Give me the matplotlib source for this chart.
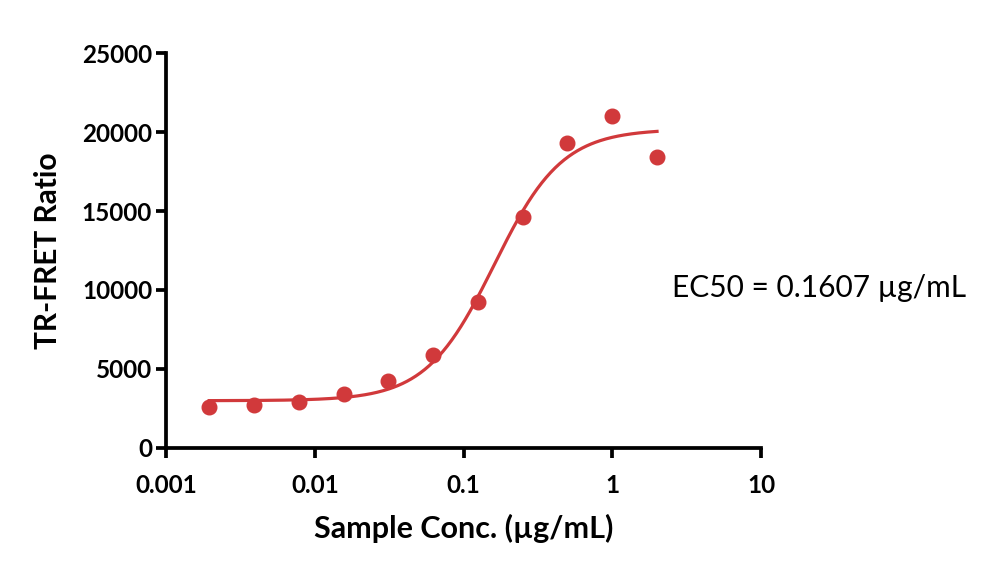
import numpy as np
import matplotlib
matplotlib.use("Agg")
import matplotlib.pyplot as plt

# measured points (sample conc. in ug/mL, TR-FRET ratio)
conc = [0.001953, 0.003906, 0.007813, 0.015625, 0.03125, 0.0625, 0.125, 0.25, 0.5, 1, 2]
ratio = [2600, 2710, 2900, 3390, 4250, 5870, 9260, 14610, 19340, 21030, 18410]

# 4PL fit parameters
bottom = 2980
top = 20200
ec50 = 0.1607
hill = 1.9

x_ticks = [0.001, 0.01, 0.1, 1, 10]
x_tick_labels = ["0.001", "0.01", "0.1", "1", "10"]
y_ticks = [0, 5000, 10000, 15000, 20000, 25000]

red = "#d1393b"

plt.rcParams["font.family"] = ["Lato", "DejaVu Sans"]

fig = plt.figure(figsize=(10, 5.73), dpi=100)
ax = fig.add_axes([0.166, 0.2187, 0.595, 0.688])

xs = np.logspace(np.log10(conc[0]), np.log10(conc[-1]), 300)
fit = bottom + (top - bottom) / (1 + (ec50 / xs) ** hill)
ax.plot(xs, fit, color=red, lw=2.3, zorder=2)
ax.plot(conc, ratio, "o", color=red, ms=10.5, mec=red, zorder=3)

ax.set_xscale("log")
ax.set_xlim(0.001, 10)
ax.set_ylim(0, 25000)
ax.set_xticks(x_ticks)
ax.set_xticklabels(x_tick_labels)
ax.minorticks_off()
ax.set_yticks(y_ticks)

for s in ["top", "right"]:
	ax.spines[s].set_visible(False)
for s in ["left", "bottom"]:
	ax.spines[s].set_linewidth(2.7)

ax.tick_params(axis="both", length=7, width=2.7, labelsize=17.5)
ax.tick_params(axis="x", pad=12)
ax.tick_params(axis="y", pad=3)
for lab in ax.get_xticklabels() + ax.get_yticklabels():
	lab.set_fontweight("bold")

ax.set_xlabel("Sample Conc. (µg/mL)", fontsize=22, fontweight="bold", labelpad=12)
ax.set_ylabel("TR-FRET Ratio", fontsize=21.5, fontweight="bold", labelpad=14)

fig.text(0.672, 0.497, "EC50 = 0.1607 µg/mL", fontsize=21.5, va="center", ha="left")

fig.savefig("out.png", dpi=100)
